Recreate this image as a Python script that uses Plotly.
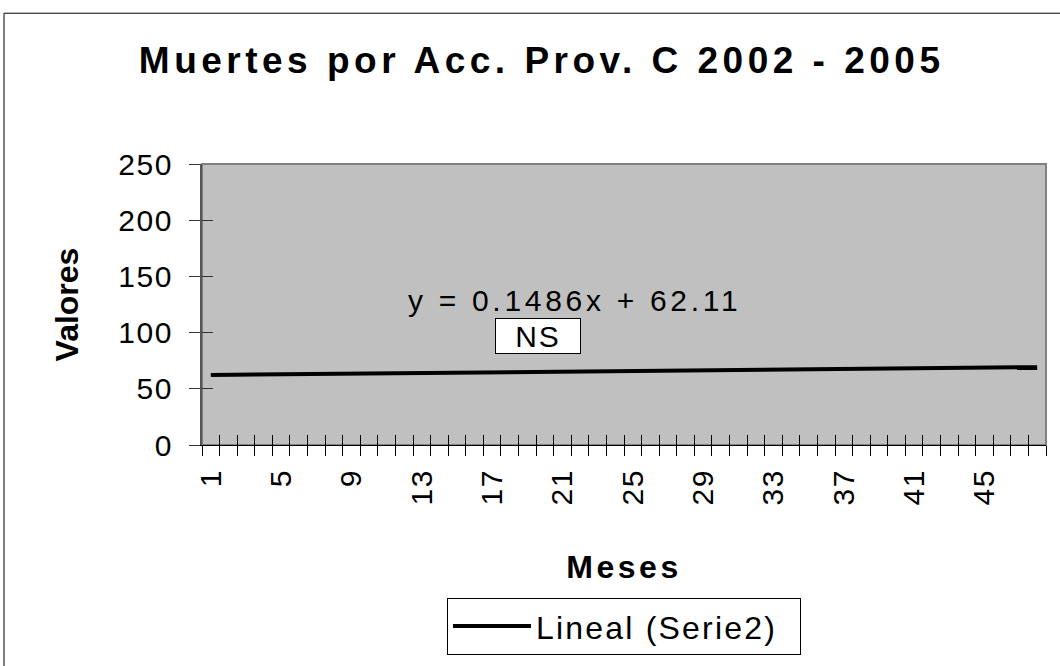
import plotly.graph_objects as go

# ---- data ----
months = list(range(1, 49))                      # categories 1..48
label_months = [1, 5, 9, 13, 17, 21, 25, 29, 33, 37, 41, 45]
trend_x = [1, 48]                                # trendline endpoints (Serie2 linear fit)
trend_y = [62.26, 69.24]
y_ticks = [0, 50, 100, 150, 200, 250]
equation_text = "y = 0.1486x + 62.11"
sig_text = "NS"
series_name = "Lineal (Serie2)"
title_text = "Muertes por Acc. Prov. C 2002 - 2005"

FONT = "Arial, 'Liberation Sans', sans-serif"


def spaced(s, px):
    return f'<span style="letter-spacing:{px}px">{s}</span>'


# plot area in pixels
L, R, T, B = 202, 1046, 164, 451
W, H = 1060, 666


def px_x(px):
    return (px - L) / (R - L)


def px_y(py):
    return (B - py) / (B - T)


boundaries = [m - 0.5 for m in months] + [months[-1] + 0.5]
xr = [months[0] - 0.5, months[-1] + 0.5]

fig = go.Figure()
fig.add_trace(go.Scatter(
    x=trend_x, y=trend_y, mode="lines", name=spaced(series_name, 2.2) + "  ",
    line=dict(color="black", width=4), hoverinfo="skip",
))
# empty helper trace carrying the overlay axes (inside tick marks)
fig.add_trace(go.Scatter(x=[], y=[], xaxis="x2", yaxis="y2", showlegend=False,
                         hoverinfo="skip"))

fig.update_layout(
    width=W, height=H,
    margin=dict(l=L, r=W - R, t=T, b=H - B, pad=0),
    paper_bgcolor="white", plot_bgcolor="#C0C0C0",
    font=dict(family=FONT, color="black"),
    title=dict(text=spaced(title_text, 4.5), x=0.511, xanchor="center",
               y=1 - 60 / H, yanchor="middle", yref="container",
               font=dict(size=37, family=FONT, weight="bold", color="black")),
    xaxis=dict(
        range=xr, tickmode="array", tickvals=label_months,
        ticktext=[spaced(str(v), 1.5) for v in label_months],
        tickangle=-90, ticks="outside", ticklen=10, tickcolor="rgba(0,0,0,0)",
        ticklabelstandoff=1,
        tickfont=dict(size=30, family=FONT, color="black"),
        minor=dict(tickvals=boundaries, ticks="outside", ticklen=10,
                   tickcolor="black", tickwidth=1, showgrid=False),
        showgrid=False, zeroline=False, showline=True, linecolor="black",
        linewidth=1,
        title=dict(text=spaced("Meses", 3.5), standoff=51,
                   font=dict(size=32, family=FONT, weight="bold", color="black")),
    ),
    xaxis2=dict(
        range=xr, overlaying="x", anchor="y", side="bottom",
        tickmode="array", tickvals=boundaries, ticks="inside", ticklen=10,
        tickcolor="black", tickwidth=1, showticklabels=False,
        showgrid=False, zeroline=False, showline=False,
    ),
    yaxis=dict(
        range=[0, 250], tickmode="array", tickvals=y_ticks,
        ticktext=[spaced(str(v), 1.6) for v in y_ticks],
        ticks="outside", ticklen=11, tickcolor="#333333", tickwidth=1,
        ticklabelstandoff=10,
        tickfont=dict(size=30, family=FONT, color="black"),
        showgrid=False, zeroline=False, showline=True, linecolor="#555555",
        linewidth=2,
        title=dict(text="Valores", standoff=30,
                   font=dict(size=32, family=FONT, weight="bold", color="black")),
    ),
    yaxis2=dict(
        range=[0, 250], overlaying="y", anchor="x", side="left",
        tickmode="array", tickvals=y_ticks, ticks="inside", ticklen=11,
        tickcolor="#333333", tickwidth=1, showticklabels=False,
        showgrid=False, zeroline=False, showline=False,
    ),
    legend=dict(
        x=px_x(447), y=px_y(607), xanchor="left", yanchor="top",
        bgcolor="white", bordercolor="black", borderwidth=1,
        font=dict(size=32, family=FONT, color="black"),
        itemwidth=78,
    ),
    showlegend=True,
    shapes=[
        # plot area frame (gray)
        dict(type="rect", xref="paper", yref="paper", x0=0, x1=1, y0=0, y1=1,
             line=dict(color="#808080", width=2), layer="below"),
        # chart area outer frame
        dict(type="rect", xref="paper", yref="paper",
             x0=px_x(4), x1=px_x(1075), y0=px_y(685), y1=px_y(10),
             line=dict(color="black", width=1), layer="above"),
    ],
    annotations=[
        dict(text=spaced(equation_text, 3.7), xref="paper", yref="paper",
             x=px_x(574), y=px_y(303.5), xanchor="center", yanchor="middle",
             showarrow=False, font=dict(size=30, family=FONT, color="black")),
        dict(text=spaced(sig_text, 2), xref="paper", yref="paper",
             x=px_x(538.3), y=px_y(340), xanchor="center", yanchor="middle",
             showarrow=False, width=82, height=32, borderpad=1,
             bgcolor="white", bordercolor="black", borderwidth=1,
             font=dict(size=30, family=FONT, color="black")),
    ],
)

fig.write_html("out.html", config={"displayModeBar": False},
               post_script="document.body.style.margin='0';")
